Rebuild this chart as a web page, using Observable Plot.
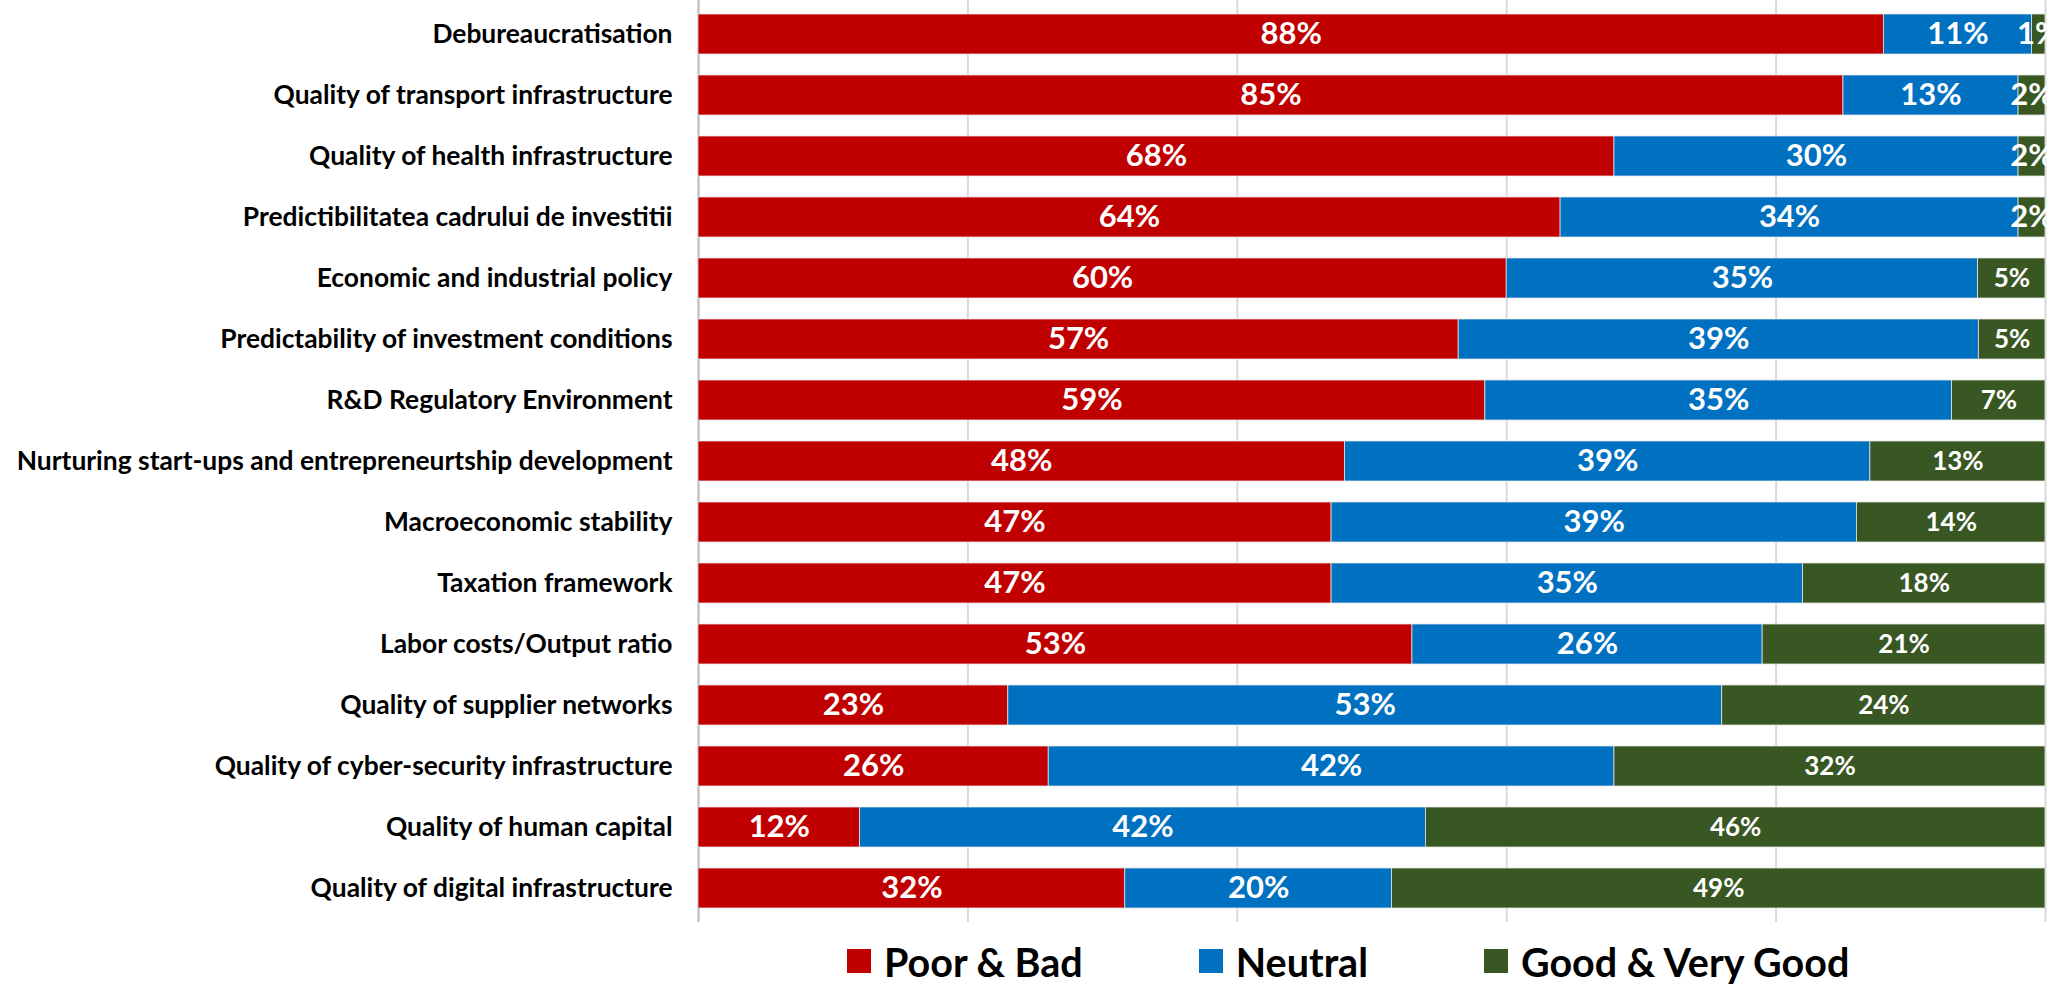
<!DOCTYPE html>
<html>
<head>
<meta charset="utf-8">
<script src="https://cdn.jsdelivr.net/npm/d3@7"></script>
<script src="https://cdn.jsdelivr.net/npm/@observablehq/plot@0.6"></script>
<style>
  body { margin: 0; background: #fff; font-family: Lato, "Open Sans", sans-serif; }
  #legend {
    display: flex; align-items: center; height: 54px; margin-top: 10px;
    margin-left: 847px; font-weight: bold; font-size: 39.5px; color: #000;
  }
  .item { display: flex; align-items: center; margin-right: 116px; }
  .sw { width: 24px; height: 24px; margin-right: 13px; }
</style>
</head>
<body>
<div id="chart"></div>
<div id="legend"></div>
<script>
// Survey assessment of business environment factors (share of answers per row)
const categories = [
  "Debureaucratisation",
  "Quality of transport infrastructure",
  "Quality of health infrastructure",
  "Predictibilitatea cadrului de investitii",
  "Economic and industrial policy",
  "Predictability of investment conditions",
  "R&D Regulatory Environment",
  "Nurturing start-ups and entrepreneurtship development",
  "Macroeconomic stability",
  "Taxation framework",
  "Labor costs/Output ratio",
  "Quality of supplier networks",
  "Quality of cyber-security infrastructure",
  "Quality of human capital",
  "Quality of digital infrastructure"
];
const poorBad = [88, 85, 68, 64, 60, 57, 59, 48, 47, 47, 53, 23, 26, 12, 32];
const neutral = [11, 13, 30, 34, 35, 39, 35, 39, 39, 35, 26, 53, 42, 42, 20];
const good    = [1, 2, 2, 2, 5, 5, 7, 13, 14, 18, 21, 24, 32, 46, 49];

const seriesNames = ["Poor & Bad", "Neutral", "Good & Very Good"];
const seriesColors = ["#C00000", "#0070C0", "#385723"];
const gridTicks = [0, 0.2, 0.4, 0.6, 0.8, 1];

// long format table: one row per category and answer group
const rows = [];
categories.forEach((c, i) => {
  [poorBad, neutral, good].forEach((arr, k) => {
    rows.push({category: c, series: seriesNames[k], value: arr[i]});
  });
});

// each row is shown as a 100% stacked bar
const stack = {x: "value", y: "category", z: "series", offset: "normalize"};

const chart = Plot.plot({
  width: 2047,
  height: 924,
  marginLeft: 698,
  marginRight: 2,
  marginTop: 0,
  marginBottom: 2,
  style: {fontFamily: "Lato, 'Open Sans', sans-serif", background: "#fff"},
  x: {domain: [0, 1], axis: null},
  y: {domain: categories, paddingInner: 0.345, paddingOuter: 0.17, label: null},
  color: {domain: seriesNames, range: seriesColors},
  marks: [
    Plot.gridX(gridTicks, {stroke: "#d9d9d9", strokeOpacity: 1, strokeWidth: 2}),
    Plot.ruleX([0], {stroke: "#bfbfbf", strokeWidth: 2}),
    Plot.barX(rows, Plot.stackX({
      ...stack,
      fill: "series",
      stroke: "#e8e8e8",
      strokeWidth: 0.75,
      inset: 0
    })),
    Plot.textX(rows, Plot.stackX({
      ...stack,
      text: d => d.value + "%",
      fill: "white",
      fontWeight: "bold",
      fontSize: d => (d.series === "Good & Very Good" && d.value >= 5) ? 26 : 31
    })),
    Plot.axisY({
      tickSize: 0,
      tickPadding: 26,
      fontSize: 26.4,
      fontWeight: "bold",
      fill: "#000",
      label: null
    })
  ]
});
document.getElementById("chart").appendChild(chart);

// legend below the plot
const legend = document.getElementById("legend");
seriesNames.forEach((name, k) => {
  const item = document.createElement("div");
  item.className = "item";
  const sw = document.createElement("div");
  sw.className = "sw";
  sw.style.background = seriesColors[k];
  const label = document.createElement("span");
  label.textContent = name;
  item.appendChild(sw);
  item.appendChild(label);
  legend.appendChild(item);
});
</script>
</body>
</html>
